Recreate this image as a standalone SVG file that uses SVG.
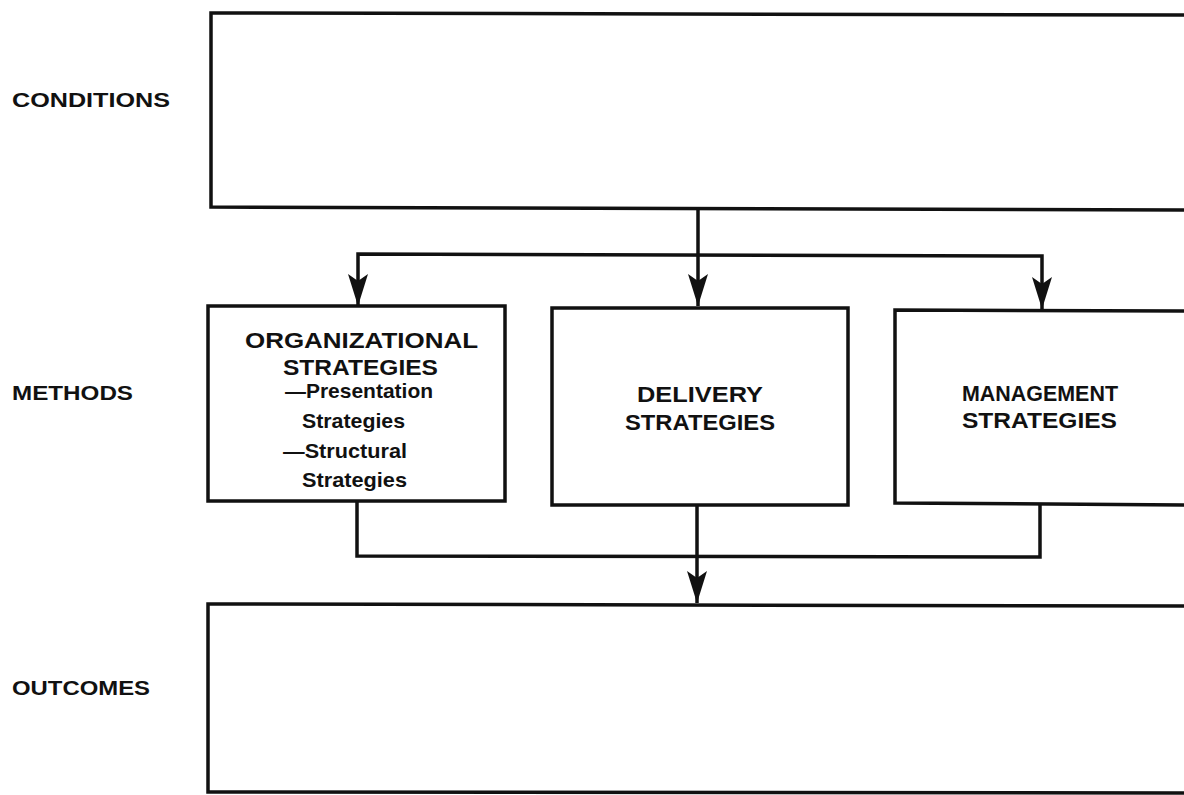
<svg xmlns="http://www.w3.org/2000/svg" width="1184" height="795" viewBox="0 0 1184 795">
  <style>
    .box { fill: #fff; stroke: #111; stroke-width: 3.5; }
    .wire { fill: none; stroke: #111; stroke-width: 3.5; }
    .side { font-family: "Liberation Sans", Arial, sans-serif; font-weight: bold; font-size: 21px; fill: #111; }
    .head { font-family: "Liberation Sans", Arial, sans-serif; font-weight: bold; font-size: 22px; fill: #111; }
    .sub { font-family: "Liberation Sans", Arial, sans-serif; font-weight: bold; font-size: 21px; fill: #111; }
  </style>
  <defs>
    <!-- notched arrowhead, tip at the end of the line -->
    <marker id="arrow" viewBox="0 0 32 22" refX="32" refY="11" markerWidth="32" markerHeight="22" markerUnits="userSpaceOnUse" orient="auto-start-reverse">
      <path d="M0 1 L7 11 L0 21 L32 11 Z" fill="#111"/>
    </marker>
  </defs>
  <rect width="1184" height="795" fill="#fff"/>

  <!-- row labels -->
  <text class="side" x="12" y="107" textLength="158" lengthAdjust="spacingAndGlyphs">CONDITIONS</text>
  <text class="side" x="12" y="400" textLength="121" lengthAdjust="spacingAndGlyphs">METHODS</text>
  <text class="side" x="12" y="695" textLength="138" lengthAdjust="spacingAndGlyphs">OUTCOMES</text>

  <g id="conditions">
    <path class="box" d="M1186 15 L211 13 L211 207 L1186 210"/>
  </g>

  <g id="organizational">
    <rect class="box" x="208" y="306" width="297" height="195"/>
    <text class="head" x="245" y="348" textLength="233" lengthAdjust="spacingAndGlyphs">ORGANIZATIONAL</text>
    <text class="head" x="283" y="375" textLength="155" lengthAdjust="spacingAndGlyphs">STRATEGIES</text>
    <text class="sub" x="285" y="398" textLength="148" lengthAdjust="spacingAndGlyphs">—Presentation</text>
    <text class="sub" x="302" y="428" textLength="103" lengthAdjust="spacingAndGlyphs">Strategies</text>
    <text class="sub" x="283" y="458" textLength="124" lengthAdjust="spacingAndGlyphs">—Structural</text>
    <text class="sub" x="302" y="487" textLength="105" lengthAdjust="spacingAndGlyphs">Strategies</text>
  </g>

  <g id="delivery">
    <rect class="box" x="552" y="308" width="296" height="197"/>
    <text class="head" x="637" y="402" textLength="126" lengthAdjust="spacingAndGlyphs">DELIVERY</text>
    <text class="head" x="625" y="430" textLength="150" lengthAdjust="spacingAndGlyphs">STRATEGIES</text>
  </g>

  <g id="management">
    <path class="box" d="M1186 311 L895 310 L895 503 L1186 505"/>
    <text class="head" x="962" y="401" textLength="156" lengthAdjust="spacingAndGlyphs">MANAGEMENT</text>
    <text class="head" x="962" y="428" textLength="155" lengthAdjust="spacingAndGlyphs">STRATEGIES</text>
  </g>

  <g id="outcomes">
    <path class="box" d="M1186 606 L208 604 L208 792 L1186 793"/>
  </g>

  <g id="connectors">
    <!-- fan-out from conditions -->
    <path class="wire" d="M698 208 L698 306" marker-end="url(#arrow)"/>
    <path class="wire" d="M358 306 L358 254 L1042 256 L1042 309" marker-start="url(#arrow)" marker-end="url(#arrow)"/>
    <!-- merge into outcomes -->
    <path class="wire" d="M357 501 L357 556 L1040 557 L1040 504"/>
    <path class="wire" d="M697 505 L697 603" marker-end="url(#arrow)"/>
  </g>
</svg>
